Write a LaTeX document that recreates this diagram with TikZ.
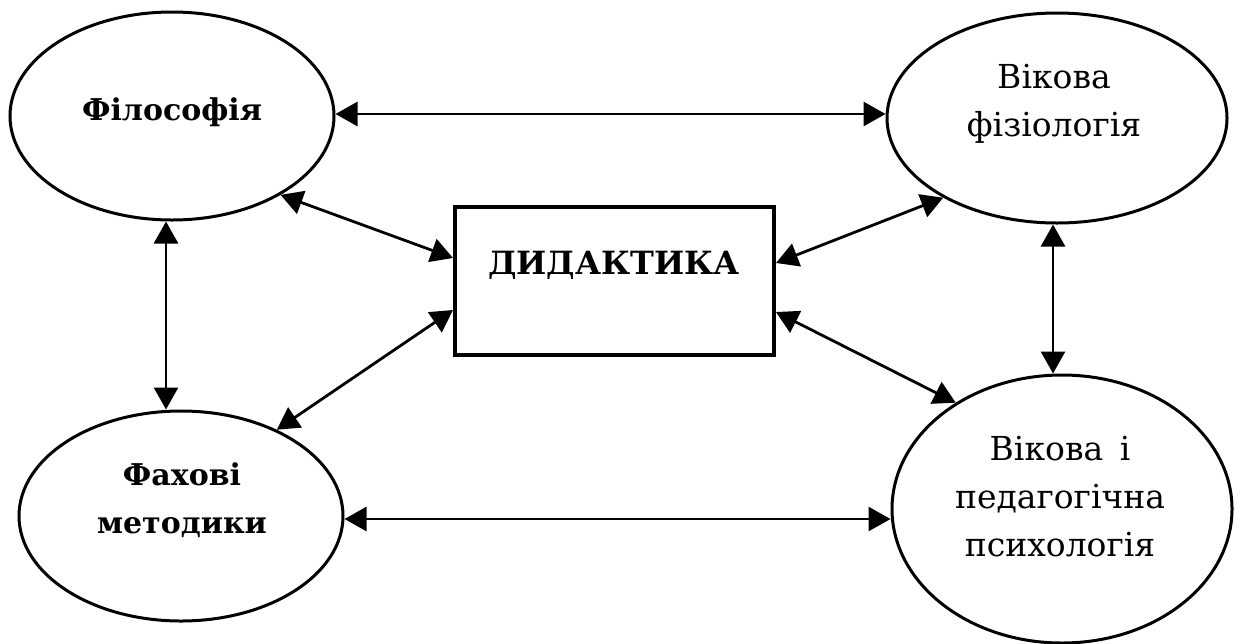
\documentclass[tikz,border=0pt]{standalone}
\usepackage{fontspec}
\setmainfont{DejaVu Serif}
\usetikzlibrary{arrows.meta,shapes.geometric,calc}
\tikzset{
  oval/.style={draw, ellipse, line width=1.5pt, inner sep=0pt},
  lbl/.style={align=center, inner sep=0pt, font=\fontsize{16.5}{24}\selectfont},
  lblb/.style={lbl, font=\fontsize{15}{24}\selectfont\bfseries},
  link/.style={line width=1.4pt, {Triangle[length=11pt,width=12pt]}-{Triangle[length=11pt,width=12pt]}},
  mainbox/.style={draw, line width=2pt, inner sep=0pt}
}
\begin{document}
\begin{tikzpicture}[x=0.5pt,y=-0.5pt]
\useasboundingbox (0,0) rectangle (1234,643);
% ellipses
\node[oval, minimum width=324pt*0.5, minimum height=208pt*0.5] (fil) at (172,116) {};
\node[oval, minimum width=340pt*0.5, minimum height=210pt*0.5] (fiz) at (1057,118) {};
\node[oval, minimum width=324pt*0.5, minimum height=210pt*0.5] (met) at (181,516) {};
\node[oval, minimum width=340pt*0.5, minimum height=268pt*0.5] (psy) at (1062,509) {};
% box
\node[mainbox, minimum width=319pt*0.5, minimum height=148pt*0.5] (did) at (614.5,281) {};
% labels
\node[lblb] (filT) at (172,112) {Філософія};
\node[lbl] (fizT) at (1054,104) {Вікова\\фізіологія};
\node[lblb] (metT) at (182,500) {Фахові\\методики};
\node[lbl] (psyT) at (1060,497) {Вікова\enspace і\\педагогічна\\психологія};
\node[lblb, font=\fontsize{16}{20}\selectfont\bfseries] (didT) at (614,265) {ДИДАКТИКА};
% connectors
\draw[link] ($(fil.east)+(0,-2)$) -- ($(fiz.west)+(0,-4)$);
\draw[link] ($(met.east)+(0,3)$) -- ($(psy.west)+(0,10)$);
\draw[link] ($(fil.south)+(-6,0)$) -- ($(met.north)+(-15,0)$);
\draw[link] ($(fiz.south)+(-4,0)$) -- ($(psy.north)+(-9,0)$);
\draw[link] (fil.-36.5) -- ($(did.west)+(0,-23)$);
\draw[link] (met.42) -- ($(did.west)+(0,29)$);
\draw[link] (fiz.215) -- ($(did.east)+(0,-18)$);
\draw[link] (psy.135) -- ($(did.east)+(0,31)$);
\end{tikzpicture}
\end{document}
